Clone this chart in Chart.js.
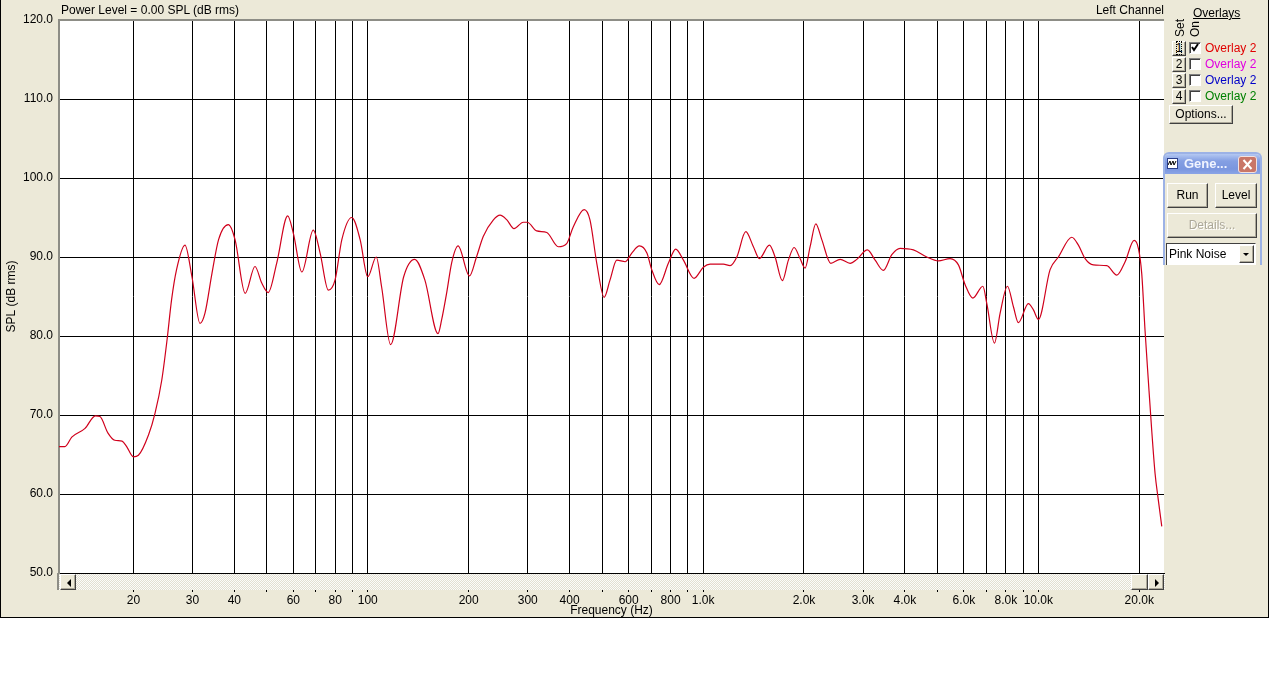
<!DOCTYPE html>
<html>
<head>
<meta charset="utf-8">
<script src="https://cdn.jsdelivr.net/npm/chart.js@4.4.1/dist/chart.umd.min.js"></script>
<style>
  body { margin: 0; background: #fff; font-family: 'Liberation Sans', Arial, sans-serif; font-size: 12px; color: #000; }
  #win { position: absolute; left: 0; top: 0; width: 1267px; height: 617px; background: #ece9d8;
         border-left: 1px solid #000; border-right: 1px solid #000; border-bottom: 1px solid #000; }
  #chart { position: absolute; left: 0; top: 0; z-index: 1; }
  .ui { position: absolute; z-index: 2; white-space: nowrap; line-height: 14px; }
  .btn { position: absolute; z-index: 2; box-sizing: border-box; background: #ece9d8; text-align: center;
         border: 1px solid; border-color: #fff #404040 #404040 #fff; box-shadow: inset -1px -1px #aca899; }
  .chk { position: absolute; z-index: 2; box-sizing: border-box; width: 12px; height: 12px; background: #fff;
         border: 1px solid; border-color: #808080 #fff #fff #808080; box-shadow: inset 1px 1px #404040; }
  .vt { position: absolute; z-index: 2; writing-mode: vertical-rl; transform: rotate(180deg); line-height: 12px; }
  #hscroll { position: absolute; z-index: 2; left: 59px; top: 574px; width: 1106px; height: 16px;
             background: repeating-conic-gradient(#fcfcfa 0 25%, #e2dfd2 0 50%) 0 0 / 2px 2px; }
  .tri-l { position: absolute; left: 6px; top: 4px; width: 0; height: 0; border-top: 4px solid transparent; border-bottom: 4px solid transparent; border-right: 4px solid #000; }
  .tri-r { position: absolute; left: 6px; top: 4px; width: 0; height: 0; border-top: 4px solid transparent; border-bottom: 4px solid transparent; border-left: 4px solid #000; }
  #gen { position: absolute; z-index: 3; left: 1163px; top: 152px; width: 99px; height: 113px; box-sizing: border-box;
         border: 2px solid #9cb2e6; border-bottom: 0; border-radius: 6px 6px 0 0; background: #ece9d8; overflow: hidden; }
  #gen .bar { position: absolute; left: 0; top: 0; width: 100%; height: 20px;
              background: linear-gradient(#b4c8f2, #849fe3 35%, #7a96df 75%, #8aa4e6); }
  #gen .close { position: absolute; left: 73px; top: 2px; width: 19px; height: 17px; box-sizing: border-box;
                background: #c97668; border: 1px solid #f2e2e0; border-radius: 3px; }
</style>
</head>
<body>
<div id="win"></div>
<canvas id="chart" width="1269" height="618"></canvas>

<div class="ui" style="left:61px;top:3px;">Power Level = 0.00 SPL (dB rms)</div>
<div class="ui" style="left:1095px;top:3px;width:69px;text-align:right;">Left Channel</div>

<div id="hscroll">
  <div class="btn" style="left:1px;top:0;width:16px;height:16px;"><div class="tri-l"></div></div>
  <div class="btn" style="left:1072px;top:0;width:17px;height:16px;"></div>
  <div class="btn" style="left:1089px;top:0;width:16px;height:16px;"><div class="tri-r"></div></div>
</div>
<div class="ui" style="left:57px;top:573px;width:2px;height:17px;background:#8d8d86;"></div>

<div class="ui" style="left:1193px;top:6px;text-decoration:underline;">Overlays</div>
<div class="vt" style="left:1174px;top:19px;">Set</div>
<div class="vt" style="left:1189px;top:21px;">On</div>

<div class="btn" style="left:1172px;top:41px;width:14px;height:15px;line-height:12px;"><span style="outline:1px dotted #000;outline-offset:-1px;">1</span></div>
<div class="btn" style="left:1172px;top:57px;width:14px;height:15px;line-height:12px;">2</div>
<div class="btn" style="left:1172px;top:73px;width:14px;height:15px;line-height:12px;">3</div>
<div class="btn" style="left:1172px;top:89px;width:14px;height:15px;line-height:12px;">4</div>

<div class="chk" style="left:1189px;top:42px;">
  <svg width="10" height="10" style="position:absolute;left:0;top:0;"><polyline points="2,4 4,7 8,1" fill="none" stroke="#000" stroke-width="2"/></svg>
</div>
<div class="chk" style="left:1189px;top:58px;"></div>
<div class="chk" style="left:1189px;top:74px;"></div>
<div class="chk" style="left:1189px;top:90px;"></div>

<div class="ui" style="left:1205px;top:41px;color:#e00000;">Overlay 2</div>
<div class="ui" style="left:1205px;top:57px;color:#e000e0;">Overlay 2</div>
<div class="ui" style="left:1205px;top:73px;color:#0000c8;">Overlay 2</div>
<div class="ui" style="left:1205px;top:89px;color:#008000;">Overlay 2</div>

<div class="btn" style="left:1169px;top:105px;width:64px;height:19px;line-height:16px;">Options...</div>

<div id="gen">
  <div class="bar">
    <div style="position:absolute;left:2px;top:4px;width:11px;height:11px;background:#fff;border:1px solid #2a3e8a;box-sizing:border-box;">
      <svg width="9" height="9" style="position:absolute;left:0;top:0;"><polyline points="0,6 2,2 3,6 5,2 6,6 8,2" fill="none" stroke="#000" stroke-width="1"/></svg>
    </div>
    <div style="position:absolute;left:19px;top:3px;color:#f0f4ff;font-weight:bold;font-size:13px;line-height:14px;">Gene...</div>
    <div class="close">
      <svg width="17" height="15" style="position:absolute;left:0;top:0;"><path d="M4.5 3 L12.5 12 M12.5 3 L4.5 12" stroke="#fff" stroke-width="2"/></svg>
    </div>
  </div>
  <div class="btn" style="left:2px;top:29px;width:41px;height:25px;line-height:22px;">Run</div>
  <div class="btn" style="left:50px;top:29px;width:42px;height:25px;line-height:22px;">Level</div>
  <div class="btn" style="left:2px;top:59px;width:90px;height:25px;line-height:22px;color:#aca899;text-shadow:1px 1px #fff;">Details...</div>
  <div style="position:absolute;left:1px;top:89px;width:90px;height:24px;box-sizing:border-box;background:#fff;border:1px solid;border-color:#404040 #fff #fff #404040;">
    <div style="position:absolute;left:2px;top:3px;line-height:14px;">Pink Noise</div>
    <div class="btn" style="left:72px;top:1px;width:15px;height:18px;">
      <div style="position:absolute;left:3px;top:7px;width:0;height:0;border-left:3px solid transparent;border-right:3px solid transparent;border-top:3px solid #000;"></div>
    </div>
  </div>
</div>

<script>
// measured response, Left Channel
const freqHz = [12, 12.5, 13.1, 14.35, 15.4, 15.9, 16.8, 17.6, 18.5, 19.1, 20, 20.7, 22.2, 23.2, 24.3, 25.2, 26.0, 26.9, 28.5, 29.9,
  31.6, 32.7, 34.3, 35.9, 38.4, 40.2, 43.1, 46.1, 48.3, 50.5, 53.5, 57.7, 60.0, 63.6, 68.8, 72.1, 76.3, 79.9, 83.7, 89.6,
  94.9, 100, 106, 110, 117, 128, 138, 148, 162, 166, 172, 178, 186, 201, 211, 221, 237, 248, 260, 273,
  291, 299, 319, 342, 370, 392, 410, 442, 460, 482, 507, 528, 553, 586, 613, 646, 680, 703, 740, 788,
  829, 874, 940, 1002, 1050, 1150, 1204, 1261, 1341, 1413, 1472, 1577, 1640, 1724, 1797, 1869, 1947, 2015, 2086, 2169,
  2260, 2404, 2564, 2746, 2875, 3092, 3260, 3450, 3656, 3870, 4240, 4648, 5033, 5455, 5776, 6048, 6377, 6831, 7020, 7397,
  7692, 8087, 8427, 8718, 9340, 9667, 10006, 10840, 11476, 12582, 13166, 13786, 14594, 16004, 17142, 18146, 19300, 19876, 20340, 20800,
  21280, 21780, 22290, 22800, 23340];
const splDb = [66.0, 66.0, 67.2, 68.3, 69.9, 69.8, 67.7, 66.8, 66.7, 66.0, 64.7, 64.9, 67.5, 70.2, 74.4, 79.5, 84.6, 88.4, 91.5, 87.5,
  81.6, 82.9, 87.9, 92.2, 94.1, 92.2, 85.4, 88.8, 86.7, 85.5, 89.2, 95.2, 93.0, 88.1, 93.4, 90.5, 85.8, 87.1, 92.2, 95.0,
  92.2, 87.5, 90.0, 86.2, 78.9, 87.5, 89.7, 87.1, 80.3, 82.0, 85.5, 89.3, 91.4, 87.6, 90.0, 92.6, 94.7, 95.3, 94.7, 93.6,
  94.4, 94.4, 93.3, 93.1, 91.3, 91.7, 93.8, 96.0, 94.7, 89.2, 84.9, 87.1, 89.6, 89.4, 90.5, 91.4, 90.5, 88.4, 86.5, 89.2,
  91.0, 89.6, 87.3, 88.7, 89.1, 89.1, 88.9, 90.0, 93.2, 91.3, 89.8, 91.5, 90.0, 87.0, 89.6, 91.2, 89.8, 88.6, 91.3, 94.2,
  92.2, 89.2, 89.7, 89.2, 89.7, 90.9, 89.6, 88.3, 90.3, 91.1, 90.9, 90.0, 89.5, 89.8, 89.0, 86.5, 84.8, 86.3, 84.1, 79.1,
  82.9, 86.3, 83.7, 81.7, 84.1, 83.3, 82.1, 88.4, 90.0, 92.5, 91.5, 89.8, 89.0, 88.9, 87.7, 89.4, 92.1, 91.1, 87.9, 80.8,
  74.4, 68.1, 62.6, 59.2, 55.9];

// frequency grid lines and their labels ('' = tick only)
const gridHz = [20, 30, 40, 50, 60, 70, 80, 90, 100, 200, 300, 400, 500, 600, 700, 800, 900,
  1000, 2000, 3000, 4000, 5000, 6000, 7000, 8000, 9000, 10000, 20000];
const gridLabels = ['20', '30', '40', '', '60', '', '80', '', '100', '200', '300', '400', '', '600', '', '800', '',
  '1.0k', '2.0k', '3.0k', '4.0k', '', '6.0k', '', '8.0k', '', '10.0k', '20.0k'];

const font = { family: "'Liberation Sans', Arial, sans-serif", size: 12 };
const frameGray = '#8d8d86';

const plotBg = {
  id: 'plotBg',
  beforeDraw(chart) {
    const { ctx, chartArea: a } = chart;
    ctx.save();
    ctx.fillStyle = '#fff';
    ctx.fillRect(a.left, a.top, a.right - a.left, a.bottom - a.top);
    ctx.restore();
  }
};

new Chart(document.getElementById('chart'), {
  type: 'line',
  data: {
    datasets: [{
      data: freqHz.map((f, i) => ({ x: f, y: splDb[i] })),
      borderColor: '#d0001c',
      borderWidth: 1.2,
      pointRadius: 0,
      cubicInterpolationMode: 'monotone',
      fill: false
    }]
  },
  options: {
    responsive: false,
    animation: false,
    layout: { padding: { left: 0, top: 20, right: 105, bottom: 0 } },
    plugins: { legend: { display: false }, tooltip: { enabled: false } },
    scales: {
      x: {
        type: 'logarithmic',
        min: 12,
        max: 23700,
        afterBuildTicks: s => { s.ticks = gridHz.map(v => ({ value: v })); },
        afterFit: s => { s.height = 45; },
        ticks: {
          autoSkip: false, maxRotation: 0, padding: 1, color: '#000', font,
          callback: (v, i) => gridLabels[i]
        },
        grid: { color: '#000', lineWidth: 1, tickLength: 19 },
        border: { color: '#000', width: 1 },
        title: { display: true, text: 'Frequency (Hz)', color: '#000', font, padding: { top: 0, bottom: 0 } }
      },
      y: {
        min: 50,
        max: 120,
        afterFit: s => { s.width = 59; },
        ticks: { stepSize: 10, padding: 6, color: '#000', font, callback: v => v.toFixed(1) },
        grid: {
          drawTicks: false,
          color: c => (c.tick && c.tick.value === 120 ? frameGray : '#000'),
          lineWidth: c => (c.tick && c.tick.value === 120 ? 2 : 1)
        },
        border: { color: frameGray, width: 2 },
        title: { display: true, text: 'SPL (dB rms)', color: '#000', font, padding: { top: 4, bottom: 0 } }
      }
    }
  },
  plugins: [plotBg]
});
</script>
</body>
</html>
